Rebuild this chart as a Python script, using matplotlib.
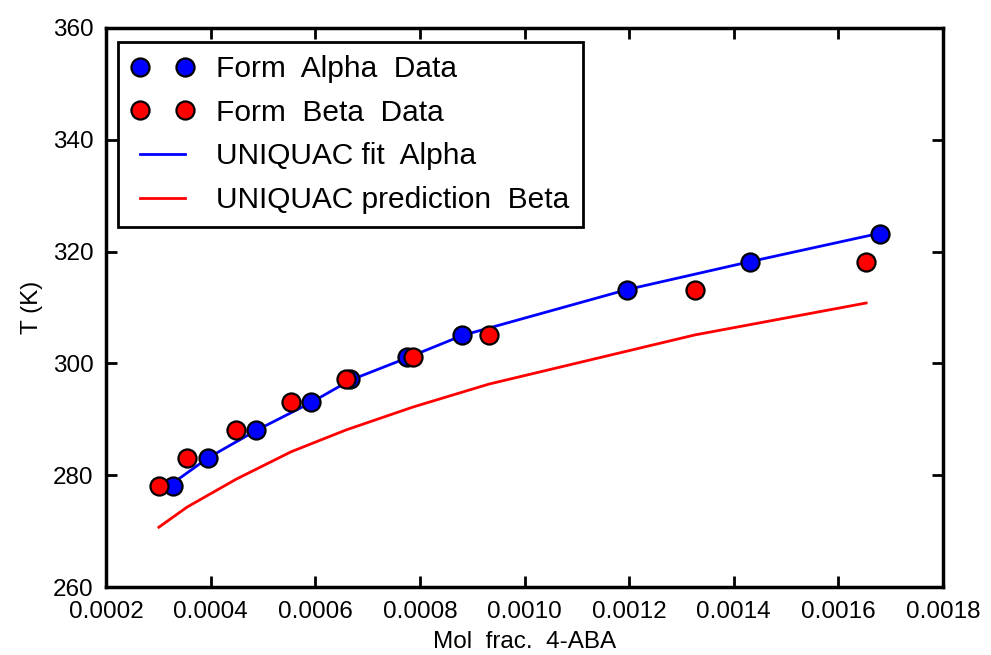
import numpy as np
import matplotlib
matplotlib.use("Agg")
import matplotlib.pyplot as plt

# solubility of 4-ABA: mole fraction vs temperature
alpha_x = [0.000328, 0.000395, 0.000487, 0.000592, 0.000667, 0.000776, 0.000881, 0.001196, 0.001431, 0.00168]
alpha_T = [278.15, 283.15, 288.15, 293.15, 297.15, 301.15, 305.15, 313.15, 318.15, 323.15]

beta_x = [0.000301, 0.000355, 0.000449, 0.000554, 0.000659, 0.000787, 0.000932, 0.001326, 0.001653]
beta_T = [278.15, 283.15, 288.15, 293.15, 297.15, 301.15, 305.15, 313.15, 318.15]

# UNIQUAC curves
fit_alpha_T = [278.6, 283.1, 288.0, 293.0, 297.0, 301.0, 305.0, 313.2, 318.2, 323.3]
pred_beta_T = [270.7, 274.3, 279.3, 284.2, 288.1, 292.2, 296.3, 305.1, 310.8]

plt.rcParams['font.family'] = ['Liberation Sans', 'DejaVu Sans']

fig = plt.figure(figsize=(9.91, 6.55), dpi=100)
ax = fig.add_axes([0.107, 0.1038, 0.8446, 0.8535])

ax.plot(alpha_x, alpha_T, 'o', color='blue', mec='black', mew=1.6, ms=13, label='Form  Alpha  Data', zorder=3)
ax.plot(beta_x, beta_T, 'o', color='red', mec='black', mew=1.6, ms=13, label='Form  Beta  Data', zorder=3)
ax.plot(alpha_x, fit_alpha_T, '-', color='blue', lw=2, label='UNIQUAC fit  Alpha', zorder=2)
ax.plot(beta_x, pred_beta_T, '-', color='red', lw=2, label='UNIQUAC prediction  Beta', zorder=2)

ax.set_xlim(0.0002, 0.0018)
ax.set_ylim(260, 360)
ax.set_xticks(np.arange(0.0002, 0.00181, 0.0002))
ax.set_xticklabels(['0.0002', '0.0004', '0.0006', '0.0008', '0.0010',
                    '0.0012', '0.0014', '0.0016', '0.0018'])
ax.set_yticks(np.arange(260, 361, 20))

ax.tick_params(direction='in', top=True, right=True, length=8, width=2, labelsize=17.5)
ax.tick_params(axis='x', pad=10)
ax.tick_params(axis='y', pad=9)
for s in ax.spines.values():
    s.set_linewidth(2.5)

ax.set_xlabel('Mol  frac.  4-ABA', fontsize=17.5, labelpad=6)
ax.set_ylabel('T (K)', fontsize=17.5, labelpad=7)

leg = ax.legend(loc='upper left', numpoints=2, fontsize=21.5, fancybox=False,
                edgecolor='black', framealpha=1, handlelength=2.1, handletextpad=0.75,
                borderpad=0.45, labelspacing=0.52, borderaxespad=0,
                bbox_to_anchor=(0.014, 0.975))
leg.get_frame().set_linewidth(2)

fig.savefig('out.png', dpi=100)
